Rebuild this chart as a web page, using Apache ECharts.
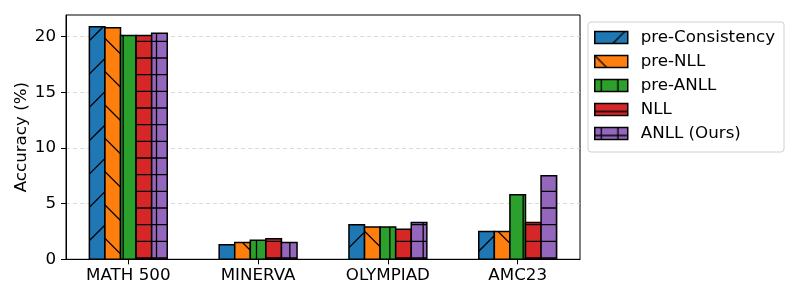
<!DOCTYPE html>
<html>
<head>
<meta charset="utf-8">
<script src="https://cdn.jsdelivr.net/npm/echarts@6/dist/echarts.min.js"></script>
<style>
html,body{margin:0;padding:0;background:#fff;}
#chart{width:797px;height:299px;}
</style>
</head>
<body>
<div id="chart"></div>
<script>
// ---- data ----
const categories = ['MATH 500', 'MINERVA', 'OLYMPIAD', 'AMC23'];
const seriesNames = ['pre-Consistency', 'pre-NLL', 'pre-ANLL', 'NLL', 'ANLL (Ours)'];
const preConsistency = [20.9, 1.3, 3.1, 2.5];
const preNLL = [20.8, 1.5, 2.9, 2.5];
const preANLL = [20.1, 1.7, 2.9, 5.8];
const nll = [20.1, 1.85, 2.7, 3.3];
const anll = [20.3, 1.5, 3.3, 7.5];
const yTicks = [0, 5, 10, 15, 20];

const seriesValues = [preConsistency, preNLL, preANLL, nll, anll];
const colors = ['#1f77b4', '#ff7f0e', '#2ca02c', '#d62728', '#9467bd'];
const hatches = ['/', '\\', 'v', 'h', 'hv'];
const FONT = 'DejaVu Sans';
const FS = 16.7;

function makePattern(bg, kind) {
  const c = document.createElement('canvas');
  c.width = 100; c.height = 100;
  const g = c.getContext('2d');
  g.fillStyle = bg; g.fillRect(0, 0, 100, 100);
  g.strokeStyle = '#000'; g.lineWidth = 1.3;
  const s = 100 / 6;
  g.beginPath();
  if (kind.indexOf('h') >= 0) {
    for (let k = -1; k <= 7; k++) { const y = 8 + k * s; g.moveTo(-5, y); g.lineTo(105, y); }
  }
  if (kind.indexOf('v') >= 0) {
    for (let k = -1; k <= 7; k++) { const x = 6.5 + k * s; g.moveTo(x, -5); g.lineTo(x, 105); }
  }
  if (kind === '/') {
    for (let k = -2; k <= 7; k++) { const cc = 30 + k * 100 / 3; g.moveTo(cc + 10, -10); g.lineTo(cc - 110, 110); }
  }
  if (kind === '\\') {
    for (let k = -4; k <= 4; k++) { const cc = k * 100 / 3; g.moveTo(cc - 10, -10); g.lineTo(cc + 110, 110); }
  }
  g.stroke();
  return { image: c, repeat: 'repeat' };
}

const patterns = colors.map((col, i) => makePattern(col, hatches[i]));
const barW = 0.12;
const offsets = [-0.24, -0.12, 0, 0.12, 0.24];

const chart = echarts.init(document.getElementById('chart'), null, { renderer: 'canvas' });

const series = seriesNames.map((name, si) => ({
  name: name,
  type: 'custom',
  itemStyle: { color: patterns[si], borderColor: '#000', borderWidth: 1.5 },
  data: seriesValues[si].map((v, ci) => [ci, v]),
  renderItem: function (params, api) {
    const x = api.value(0) + offsets[si];
    const v = api.value(1);
    const p0 = api.coord([x - barW / 2, v]);
    const p1 = api.coord([x + barW / 2, 0]);
    return {
      type: 'rect',
      shape: { x: p0[0], y: p0[1], width: p1[0] - p0[0], height: p1[1] - p0[1] },
      style: { fill: patterns[si], stroke: '#000', lineWidth: 1.5 }
    };
  }
}));

chart.setOption({
  animation: false,
  backgroundColor: '#fff',
  grid: { left: 66, top: 15, width: 514, height: 244.3, show: true, borderColor: '#000', borderWidth: 1, backgroundColor: 'transparent' },
  xAxis: {
    type: 'value', min: -0.48, max: 3.48,
    splitLine: { show: false },
    axisLine: { show: true, onZero: false, lineStyle: { color: '#000', width: 1 } },
    axisTick: { show: true, customValues: [0, 1, 2, 3], length: 5, lineStyle: { color: '#000', width: 1 } },
    axisLabel: { customValues: [0, 1, 2, 3], formatter: v => categories[Math.round(v)], fontFamily: FONT, fontSize: FS, color: '#000', margin: 8 }
  },
  yAxis: {
    type: 'value', min: 0, max: 21.945, interval: 5,
    name: 'Accuracy (%)', nameLocation: 'middle', nameGap: 36, nameMoveOverlap: false,
    nameTextStyle: { fontFamily: FONT, fontSize: FS, color: '#000' },
    axisLine: { show: true, onZero: false, lineStyle: { color: '#000', width: 1 } },
    axisTick: { show: true, customValues: yTicks, length: 5, lineStyle: { color: '#000', width: 1 } },
    axisLabel: { customValues: yTicks, fontFamily: FONT, fontSize: FS, color: '#000', margin: 10 },
    splitLine: { show: true, lineStyle: { color: '#cfcfcf', width: 0.8, type: [4, 3] } }
  },
  legend: {
    orient: 'vertical', left: 588, top: 22,
    padding: [7, 9, 10, 6],
    itemWidth: 33, itemHeight: 12, itemGap: 7,
    icon: 'rect',
    borderColor: '#d0d0d0', borderWidth: 1, borderRadius: 3,
    backgroundColor: 'rgba(255,255,255,0.8)',
    textStyle: { fontFamily: FONT, fontSize: FS, color: '#000', lineHeight: 17, padding: [0, 0, 0, 8] },
    data: seriesNames.map((n, i) => ({ name: n, itemStyle: { color: patterns[i], borderColor: '#000', borderWidth: 1.5 } }))
  },
  series: series
});
</script>
</body>
</html>
